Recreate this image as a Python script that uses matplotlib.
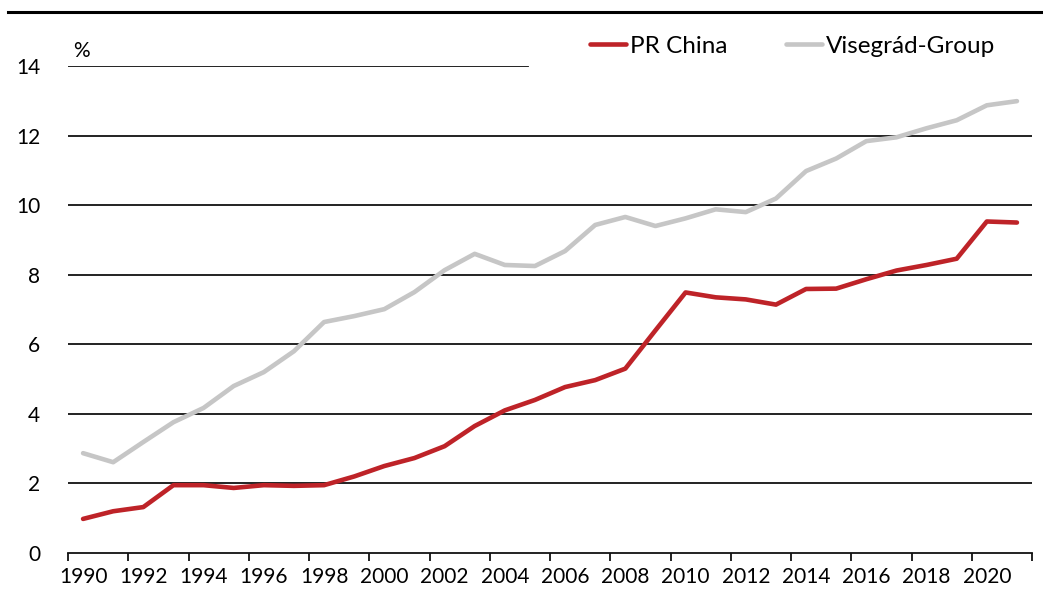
import numpy as np
import matplotlib
matplotlib.use("Agg")
import matplotlib.pyplot as plt
from matplotlib.lines import Line2D

plt.rcParams['font.family'] = ['Lato', 'DejaVu Sans']

years = list(range(1990, 2022))
china = [0.98, 1.2, 1.32, 1.95, 1.95, 1.87, 1.95, 1.93, 1.95, 2.2,
         2.5, 2.73, 3.07, 3.65, 4.1, 4.4, 4.77, 4.97, 5.3, 6.4,
         7.49, 7.35, 7.29, 7.14, 7.59, 7.6, 7.87, 8.12, 8.28, 8.46,
         9.53, 9.5]
visegrad = [2.87, 2.61, 3.19, 3.76, 4.17, 4.8, 5.2, 5.8, 6.64, 6.81,
            7.01, 7.5, 8.13, 8.6, 8.28, 8.25, 8.68, 9.43, 9.66, 9.4,
            9.62, 9.88, 9.8, 10.19, 10.98, 11.34, 11.84, 11.95, 12.21, 12.44,
            12.87, 12.99]
yticks = [0, 2, 4, 6, 8, 10, 12, 14]

red = '#BE2328'
grey = '#C6C6C6'

fig = plt.figure(figsize=(10.43, 5.97), dpi=100)
ax = fig.add_axes([68 / 1043, 1 - 553 / 597, (1032 - 68) / 1043, (553 - 66) / 597])

x = np.arange(len(years))

# gridlines (the top one stops where the legend starts)
for v in yticks[1:-1]:
    ax.axhline(v, color='#111111', lw=1.3, zorder=1)
ax.axhline(yticks[-1], xmax=(528 - 68) / (1032 - 68), color='#111111', lw=1.3, zorder=1)

ax.plot(x, visegrad, color=grey, lw=3.3, solid_capstyle='round', label='Visegrád-Group', zorder=3)
ax.plot(x, china, color=red, lw=3.3, solid_capstyle='round', label='PR China', zorder=4)

ax.set_xlim(-0.5, len(years) - 0.5)
ax.set_ylim(0, 14)

ax.set_xticks(np.arange(-0.5, len(years), 2))
ax.set_xticklabels([])
ax.set_xticks(x[::2], minor=True)
ax.set_xticklabels([str(y) for y in years[::2]], minor=True)
ax.tick_params(axis='x', which='major', length=6, width=1.3, color='#111111', direction='out')
ax.tick_params(axis='x', which='minor', length=0, pad=10, labelsize=15)

ax.set_yticks(yticks)
ax.tick_params(axis='y', length=0, pad=20, labelsize=15)

for s in ['top', 'right', 'left']:
    ax.spines[s].set_visible(False)
ax.spines['bottom'].set_linewidth(1.3)
ax.spines['bottom'].set_color('#111111')

ax.text(0.005, 1.01, '%', transform=ax.transAxes, fontsize=15, va='bottom', ha='left')

handles = [Line2D([], [], color=red, lw=3.3, solid_capstyle='round'),
           Line2D([], [], color=grey, lw=3.3, solid_capstyle='round')]
fig.legend(handles, ['PR China', 'Visegrád-Group'], loc='center left',
           bbox_to_anchor=(590 / 1043, 1 - 46 / 597), ncol=2, frameon=False,
           fontsize=17.5, handlelength=1.5, handletextpad=0.15, columnspacing=2.4,
           borderpad=0, borderaxespad=0)

fig.add_artist(Line2D([8 / 1043, 1], [1 - 12 / 597, 1 - 12 / 597], color='black', lw=2.2))

fig.savefig('out.png', dpi=100)
